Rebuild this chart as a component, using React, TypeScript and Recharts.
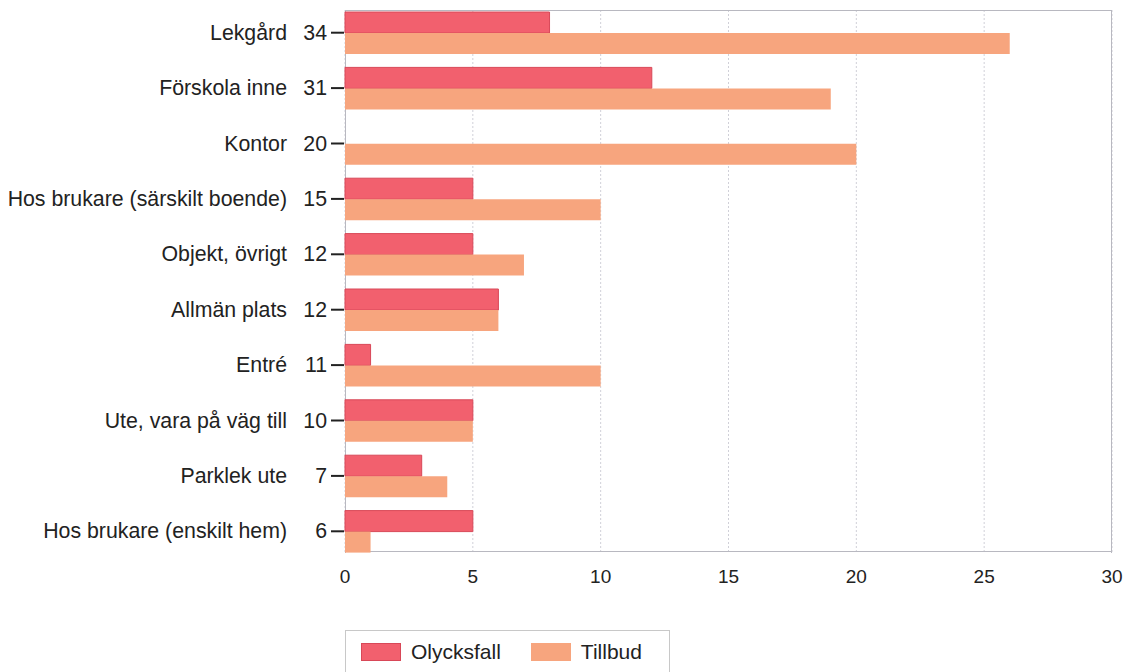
import { BarChart, Bar, XAxis, YAxis, CartesianGrid, Legend } from "recharts";

const categories = [
  "Lekgård",
  "Förskola inne",
  "Kontor",
  "Hos brukare (särskilt boende)",
  "Objekt, övrigt",
  "Allmän plats",
  "Entré",
  "Ute, vara på väg till",
  "Parklek ute",
  "Hos brukare (enskilt hem)",
];
const totals = [34, 31, 20, 15, 12, 12, 11, 10, 7, 6];
const olycksfall = [8, 12, 0, 5, 5, 6, 1, 5, 3, 5];
const tillbud = [26, 19, 20, 10, 7, 6, 10, 5, 4, 1];
const xTicks = [0, 5, 10, 15, 20, 25, 30];

const RED = "#f2606e";
const ORANGE = "#f7a57e";
const FONT = "'Liberation Sans', Arial, sans-serif";

const data = categories.map((name, i) => ({
  name,
  total: totals[i],
  olycksfall: olycksfall[i],
  tillbud: tillbud[i],
}));

// kategori + antal, högerställda intill tickstrecket
function CategoryTick(props: any) {
  const { x, y, payload, index } = props;
  return (
    <g>
      <text x={x - 50} y={y} dy={7} textAnchor="end" fontSize={21.3} fill="#222" fontFamily={FONT}>
        {payload.value}
      </text>
      <text x={x - 10} y={y} dy={7} textAnchor="end" fontSize={21.3} fill="#222" fontFamily={FONT}>
        {totals[index]}
      </text>
      <line x1={x - 6} x2={x + 7} y1={y} y2={y} stroke="#222" strokeWidth={2} />
    </g>
  );
}

function LegendBox() {
  const items = [
    { label: "Olycksfall", color: RED, border: "#d84858" },
    { label: "Tillbud", color: ORANGE, border: ORANGE },
  ];
  return (
    <div
      style={{
        border: "1px solid #c8c8c8",
        width: 325,
        height: 44,
        boxSizing: "border-box",
        display: "flex",
        alignItems: "center",
        paddingLeft: 15,
        fontFamily: FONT,
        fontSize: 21,
        color: "#222",
      }}
    >
      {items.map((it) => (
        <div key={it.label} style={{ display: "flex", alignItems: "center", marginRight: 30 }}>
          <span
            style={{
              display: "inline-block",
              width: 40,
              height: 18,
              background: it.color,
              border: `1px solid ${it.border}`,
              boxSizing: "border-box",
              marginRight: 10,
            }}
          />
          {it.label}
        </div>
      ))}
    </div>
  );
}

export default function App() {
  return (
    <div style={{ position: "absolute", left: 0, top: 0, width: 1132, height: 672, background: "#fff" }}>
      <BarChart
        width={1132}
        height={672}
        data={data}
        layout="vertical"
        margin={{ top: 10, right: 20, bottom: 35, left: 0 }}
        barGap={0}
        barSize={21}
      >
        <CartesianGrid horizontal={false} stroke="#d0d0d8" strokeDasharray="2 2" />
        {/* ram runt plotytan */}
        <CartesianGrid
          horizontalPoints={[10.5, 551.5]}
          verticalPoints={[345.5, 1111.5]}
          stroke="#b8b8c0"
        />
        <XAxis
          type="number"
          domain={[0, 30]}
          ticks={xTicks}
          axisLine={false}
          tickLine={false}
          height={40}
          tick={{ fontSize: 19, fill: "#222", fontFamily: FONT }}
          tickMargin={11}
        />
        <YAxis
          type="category"
          dataKey="name"
          width={345}
          axisLine={false}
          tickLine={false}
          interval={0}
          padding={{ top: -5, bottom: -6 }}
          tick={<CategoryTick />}
        />
        <Bar dataKey="olycksfall" name="Olycksfall" fill={RED} stroke="#d84858" strokeWidth={1} isAnimationActive={false} />
        <Bar dataKey="tillbud" name="Tillbud" fill={ORANGE} isAnimationActive={false} />
        <Legend
          content={<LegendBox />}
          wrapperStyle={{ position: "absolute", left: 345, top: 630, width: 325, height: 44 }}
        />
      </BarChart>
    </div>
  );
}
